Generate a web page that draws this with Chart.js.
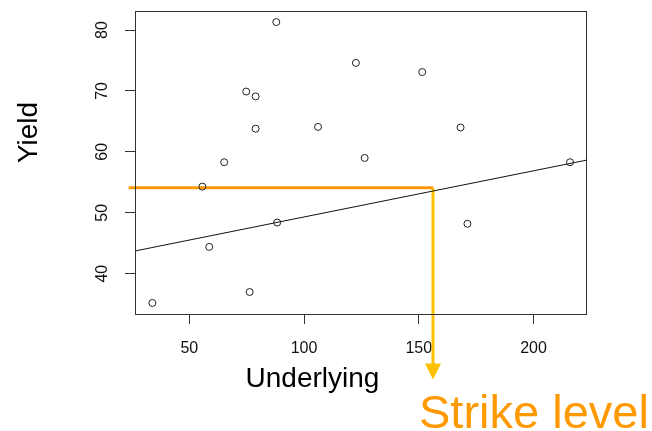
<!DOCTYPE html>
<html><head><meta charset="utf-8">
<script src="https://cdn.jsdelivr.net/npm/chart.js@4/dist/chart.umd.min.js"></script>
<style>html,body{margin:0;padding:0;background:#fff}canvas{display:block}</style>
</head><body>
<canvas id="c" width="652" height="431"></canvas>
<script>
// ---- data ----
const underlying = [87.9, 122.6, 74.8, 78.9, 78.9, 106.1, 65.2, 55.7, 151.5, 168.2, 126.4, 215.9, 58.7, 88.3, 33.9, 76.3, 171.2];
const yieldValues = [81.3, 74.6, 69.9, 69.1, 63.8, 64.1, 58.3, 54.3, 73.1, 64.0, 59.0, 58.3, 44.4, 48.4, 35.2, 37.0, 48.2];
const xTickValues = [50, 100, 150, 200];
const yTickValues = [40, 50, 60, 70, 80];
const xRange = [26.34, 223.3];
const yRange = [33.39, 83.12];
const fitLineX = [26.34, 223.3];
const fitLineY = [43.73, 58.66];
const guideX = [23.55, 156.2];
const guideYield = 54.12;
const arrowEndYield = 24.1;
const xTitle = 'Underlying';
const yTitle = 'Yield';
const strikeLabel = 'Strike level';

const FONT = '"Liberation Sans", Arial, sans-serif';

const framePlugin = {
  id: 'frame',
  afterDatasetsDraw(chart) {
    const {ctx, chartArea: a, scales} = chart;
    ctx.save();
    ctx.strokeStyle = '#333';
    ctx.lineWidth = 1;
    ctx.strokeRect(a.left + 0.5, a.top + 0.5, a.right - a.left - 1, a.bottom - a.top);
    // arrow head at the end of the strike guide
    const px = scales.x.getPixelForValue(guideX[1]);
    const py = scales.y.getPixelForValue(arrowEndYield);
    ctx.fillStyle = '#FFC000';
    ctx.beginPath();
    ctx.moveTo(px - 8, py - 7);
    ctx.lineTo(px + 8, py - 7);
    ctx.lineTo(px, py + 9);
    ctx.closePath();
    ctx.fill();
    ctx.restore();
  }
};

const titlesPlugin = {
  id: 'titles',
  afterDraw(chart) {
    const {ctx} = chart;
    ctx.save();
    ctx.fillStyle = '#000';
    ctx.font = '28px ' + FONT;
    ctx.textAlign = 'center';
    ctx.textBaseline = 'alphabetic';
    ctx.fillText(xTitle, 312.5, 387);
    ctx.save();
    ctx.translate(36.5, 132.5);
    ctx.rotate(-Math.PI / 2);
    ctx.fillText(yTitle, 0, 0);
    ctx.restore();
    ctx.fillStyle = '#FF9900';
    ctx.font = '47px ' + FONT;
    ctx.textAlign = 'left';
    ctx.fillText(strikeLabel, 419, 428);
    ctx.restore();
  }
};

const noPad = s => { s.paddingTop = 0; s.paddingBottom = 0; s.paddingLeft = 0; s.paddingRight = 0; };

new Chart(document.getElementById('c'), {
  type: 'scatter',
  data: {
    datasets: [
      {
        data: underlying.map((x, i) => ({x, y: yieldValues[i]})),
        showLine: false,
        pointRadius: 3.5,
        pointBorderWidth: 1,
        pointBorderColor: '#222',
        pointBackgroundColor: 'rgba(0,0,0,0)'
      },
      {
        data: fitLineX.map((x, i) => ({x, y: fitLineY[i]})),
        showLine: true,
        borderColor: '#111',
        borderWidth: 1,
        pointRadius: 0
      },
      {
        data: guideX.map(x => ({x, y: guideYield})),
        showLine: true,
        borderColor: '#FF9900',
        borderWidth: 3,
        pointRadius: 0,
        clip: false
      },
      {
        data: [{x: guideX[1], y: guideYield}, {x: guideX[1], y: arrowEndYield}],
        showLine: true,
        borderColor: '#FFC000',
        borderWidth: 3,
        pointRadius: 0,
        clip: false
      }
    ]
  },
  options: {
    responsive: false,
    animation: false,
    events: [],
    layout: {padding: {left: 0, top: 11, right: 65, bottom: 0}},
    plugins: {legend: {display: false}, tooltip: {enabled: false}},
    scales: {
      x: {
        type: 'linear', position: 'bottom',
        min: xRange[0], max: xRange[1],
        afterBuildTicks: s => { s.ticks = xTickValues.map(v => ({value: v})); },
        afterFit: s => { s.height = 117; noPad(s); },
        ticks: {font: {family: FONT, size: 16}, color: '#111', padding: 15, maxRotation: 0, minRotation: 0, autoSkip: false},
        grid: {drawOnChartArea: false, drawTicks: true, tickLength: 10, color: '#333', lineWidth: 1},
        border: {display: false}
      },
      y: {
        type: 'linear', position: 'left',
        min: yRange[0], max: yRange[1],
        afterBuildTicks: s => { s.ticks = yTickValues.map(v => ({value: v})); },
        afterFit: s => { s.width = 135; noPad(s); },
        ticks: {font: {family: FONT, size: 16}, color: '#111', padding: 14, minRotation: 90, maxRotation: 90, crossAlign: 'center', autoSkip: false},
        grid: {drawOnChartArea: false, drawTicks: true, tickLength: 10, color: '#333', lineWidth: 1},
        border: {display: false}
      }
    }
  },
  plugins: [framePlugin, titlesPlugin]
});
</script>
</body></html>
